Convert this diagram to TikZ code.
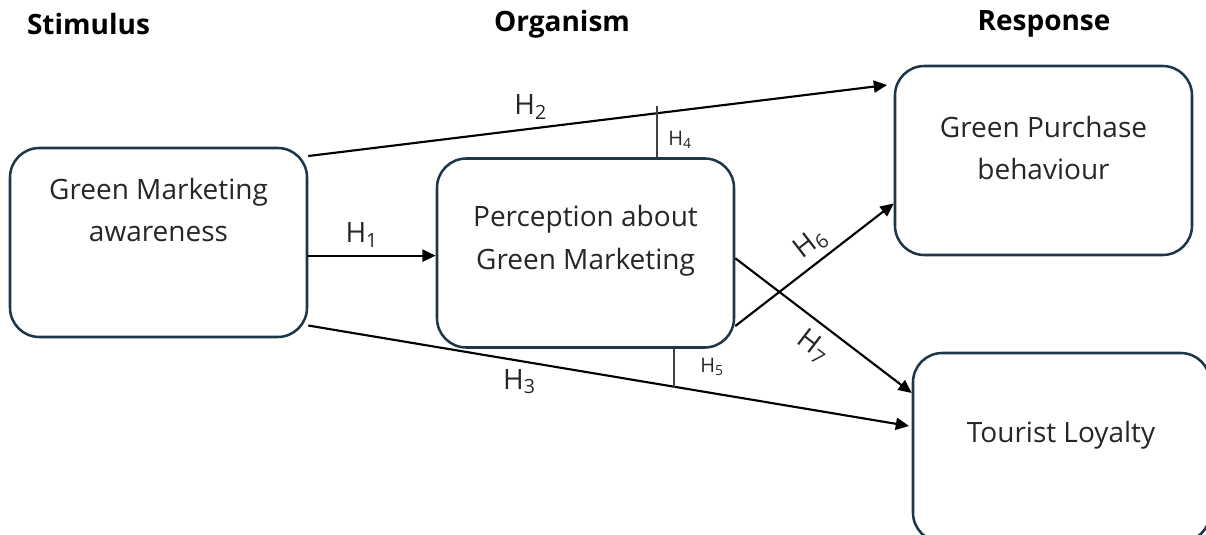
\documentclass[tikz,border=0pt]{standalone}
\usepackage{fontspec}
\setmainfont{Open Sans}
\usetikzlibrary{arrows.meta}
\definecolor{boxline}{RGB}{30,55,72}
\tikzset{
  heading/.style={font=\fontsize{21}{25}\selectfont\bfseries},
  box/.style={draw=boxline, line width=1.9pt, rounded corners=22pt,
    minimum width=222.75pt, minimum height=141.75pt},
  boxtext/.style={align=center, font=\fontsize{21}{32}\selectfont, text=black!85},
  hyp/.style={-{Triangle[length=10pt,width=9pt]}, line width=1.6pt},
  hlabel/.style={font=\fontsize{21}{24}\selectfont, text=black!85},
  hsmall/.style={font=\fontsize{15}{18}\selectfont, text=black!85},
  tick/.style={line width=0.8pt, black!75}
}
\begin{document}
\begin{tikzpicture}[x=0.75pt,y=-0.75pt]
\useasboundingbox (0,0) rectangle (1206,535);
\clip (0,0) rectangle (1206,535);
% column headings
\node[heading] (stim) at (88.5,24) {Stimulus};
\node[heading] (org) at (562,24) {Organism};
\node[heading] (resp) at (1044,24) {Response};
% the four constructs
\node[box] (gma) at (158.5,242.5) {};
\node[box] (pgm) at (585.5,253) {};
\node[box] (gpb) at (1043.5,160.5) {};
\node[box] (tl) at (1061.5,447.5) {};
\node[boxtext] (gmaText) at (158.5,210) {Green Marketing\\awareness};
\node[boxtext] (pgmText) at (585.5,241) {Perception about\\Green Marketing};
\node[boxtext] (gpbText) at (1043.5,148) {Green Purchase\\behaviour};
\node[boxtext] (tlText) at (1061,435) {Tourist Loyalty};
% hypotheses
\draw[hyp] (gma.-5.6) -- (gma.-5.6 -| pgm.west)
  node[hlabel, pos=0.42, above=2pt] (h1) {H\textsubscript{1}};
\draw[hyp, shorten >=5pt] (gma.30) -- (gpb.153)
  node[hlabel, pos=0.38, above=3pt] (h2) {H\textsubscript{2}};
\draw[hyp, shorten >=2pt] (gma.-29) -- (tl.172)
  node[hlabel, pos=0.35, below=2pt] (h3) {H\textsubscript{3}};
\draw[hyp] (pgm.-26.5) -- (gpb.196)
  node[hlabel, pos=0.55, sloped, above=1pt] (h6) {H\textsubscript{6}};
\draw[hyp] (pgm.-2) -- (tl.160)
  node[hlabel, pos=0.52, sloped, below=4pt] (h7) {H\textsubscript{7}};
% moderating links
\coordinate (h4top) at (657,106);
\coordinate (h5bot) at (674,388);
\draw[tick] (h4top) -- (h4top |- pgm.north);
\draw[tick] (h5bot |- pgm.south) -- (h5bot);
\node[hsmall] (h4) at (680,140) {H\textsubscript{4}};
\node[hsmall] (h5) at (712,367) {H\textsubscript{5}};
\end{tikzpicture}
\end{document}
